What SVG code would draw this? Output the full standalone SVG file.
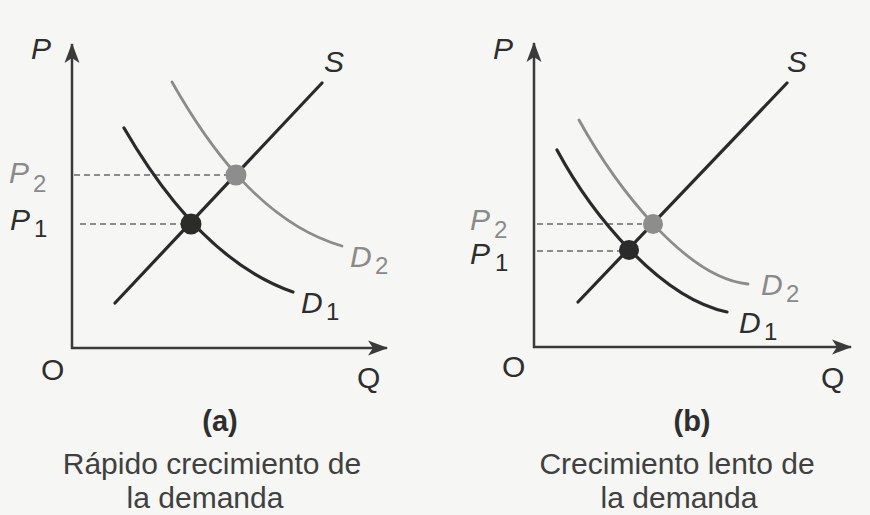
<svg xmlns="http://www.w3.org/2000/svg" width="870" height="515" viewBox="0 0 870 515">
<style>
.axis{fill:none;stroke:#3a3a3a;stroke-width:2.5;stroke-linejoin:miter}
.dark{fill:none;stroke:#2a2a2a;stroke-width:3.2;stroke-linecap:round}
.gray{fill:none;stroke:#8c8c8c;stroke-width:2.8;stroke-linecap:round}
.dash{fill:none;stroke:#6a6a6a;stroke-width:1.6;stroke-dasharray:6 4}
.lbl{font-family:"Liberation Sans",Arial,sans-serif;font-size:30px;fill:#2e2e2e}
.it{font-style:italic}
.sub{font-family:"Liberation Sans",Arial,sans-serif;font-size:24px}
.g{fill:#8a8a8a}
.d{fill:#2e2e2e}
.cap{font-family:"Liberation Sans",Arial,sans-serif;font-size:30px;fill:#404040;text-anchor:middle}
.tag{font-family:"Liberation Sans",Arial,sans-serif;font-size:29px;fill:#2e2e2e;font-weight:bold;text-anchor:middle}
</style>
<defs>
<marker id="arr" markerUnits="userSpaceOnUse" markerWidth="26" markerHeight="20" viewBox="-22 -10 26 20" refX="0" refY="0" orient="auto-start-reverse">
<path d="M1,0 L-19,-7.5 L-14,0 L-19,7.5 Z" fill="#3a3a3a"/>
</marker>
</defs>
<rect width="870" height="515" fill="#f6f6f4"/>

<g id="panel-a">
<g id="a-axes">
<path class="axis" d="M72,44 L72,348 L387,348" marker-start="url(#arr)" marker-end="url(#arr)"/>
</g>
<g id="a-lines">
<line class="dash" x1="74" y1="175" x2="226" y2="175"/>
<line class="dash" x1="80" y1="224" x2="182" y2="224"/>
<path id="a-D2" class="gray" d="M172,82 C202,135 258,222 342,246"/>
<path id="a-D1" class="dark" d="M124,128 C160,190 215,265 293,292"/>
<line id="a-S" class="dark" x1="115" y1="303" x2="322" y2="83"/>
</g>
<g id="a-E2"><circle cx="236" cy="175" r="10.5" fill="#8d8d8d"/></g>
<g id="a-E1"><circle cx="191" cy="224" r="10.5" fill="#2b2b2b"/></g>
<g id="a-labels">
<text class="lbl it" x="31" y="59">P</text>
<text class="lbl it" x="324" y="72">S</text>
<text class="lbl it g" x="9" y="183">P</text><text class="sub g" x="33" y="192">2</text>
<text class="lbl it" x="10" y="230">P</text><text class="sub d" x="34" y="237">1</text>
<text class="lbl it g" x="350" y="267">D</text><text class="sub g" x="375" y="274">2</text>
<text class="lbl it" x="301" y="313">D</text><text class="sub d" x="326" y="320">1</text>
<text class="lbl" x="41" y="380">O</text>
<text class="lbl" x="357" y="388">Q</text>
</g>
<g id="a-caption">
<text class="tag" x="220" y="431">(a)</text>
<text class="cap" x="212" y="474">Rápido crecimiento de</text>
<text class="cap" x="205" y="508">la demanda</text>
</g>
</g>

<g id="panel-b">
<g id="b-axes">
<path class="axis" d="M534,43 L534,347 L851,347" marker-start="url(#arr)" marker-end="url(#arr)"/>
</g>
<g id="b-lines">
<line class="dash" x1="537" y1="224" x2="642" y2="224"/>
<line class="dash" x1="537" y1="251" x2="620" y2="251"/>
<path id="b-D2" class="gray" d="M579,120 C615,185 685,278 748,284"/>
<path id="b-D1" class="dark" d="M557,150 C592,215 660,298 727,312"/>
<line id="b-S" class="dark" x1="578" y1="302" x2="787" y2="83"/>
</g>
<g id="b-E2"><circle cx="653" cy="224" r="10" fill="#8d8d8d"/></g>
<g id="b-E1"><circle cx="629" cy="250" r="10" fill="#2b2b2b"/></g>
<g id="b-labels">
<text class="lbl it" x="493" y="59">P</text>
<text class="lbl it" x="787" y="72">S</text>
<text class="lbl it g" x="470" y="230">P</text><text class="sub g" x="494" y="238">2</text>
<text class="lbl it" x="470" y="264">P</text><text class="sub d" x="495" y="271">1</text>
<text class="lbl it g" x="761" y="295">D</text><text class="sub g" x="786" y="302">2</text>
<text class="lbl it" x="739" y="333">D</text><text class="sub d" x="764" y="340">1</text>
<text class="lbl" x="502" y="377">O</text>
<text class="lbl" x="821" y="388">Q</text>
</g>
<g id="b-caption">
<text class="tag" x="692" y="431">(b)</text>
<text class="cap" x="677" y="474">Crecimiento lento de</text>
<text class="cap" x="679" y="508">la demanda</text>
</g>
</g>
</svg>
